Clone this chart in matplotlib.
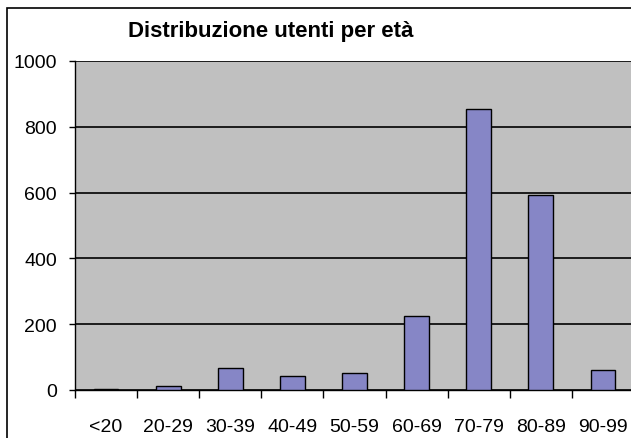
import matplotlib
matplotlib.use("Agg")
import matplotlib.pyplot as plt
from matplotlib.patches import Rectangle

# Age classes and number of users
categories = ["<20", "20-29", "30-39", "40-49", "50-59", "60-69", "70-79", "80-89", "90-99"]
users = [3, 13, 67, 43, 53, 226, 855, 593, 61]
y_ticks = [0, 200, 400, 600, 800, 1000]

W, H = 631, 439
plt.rcParams["font.family"] = ["Liberation Sans", "DejaVu Sans"]

fig = plt.figure(figsize=(W / 100, H / 100), dpi=100)
fig.patch.set_facecolor("white")

# plot area placed in pixel terms
left, right, top, bottom = 75, 634, 62, 391
ax = fig.add_axes([left / W, 1 - bottom / H, (right - left) / W, (bottom - top) / H])
ax.set_facecolor("#C0C0C0")

x = list(range(len(categories)))
ax.bar(x, users, width=0.4, color="#8686C6", edgecolor="black", linewidth=1.0, zorder=3)

ax.set_xlim(-0.5, len(categories) - 0.5)
ax.set_ylim(0, 1000)
ax.set_yticks(y_ticks)
ax.set_yticklabels([str(v) for v in y_ticks], fontsize=14)
ax.yaxis.grid(True, color="black", linewidth=1.2, zorder=1)
ax.set_axisbelow(True)

# x ticks at category boundaries, labels at centres
ax.set_xticks([i - 0.5 for i in range(len(categories) + 1)])
ax.set_xticklabels([])
ax.set_xticks(x, minor=True)
ax.set_xticklabels(categories, minor=True, fontsize=14)
ax.tick_params(axis="x", which="major", direction="out", length=6, width=1.0, color="black")
ax.tick_params(axis="x", which="minor", length=0, pad=20)
ax.tick_params(axis="y", direction="out", length=4, width=1.0, pad=9)

for s in ["top", "right"]:
    ax.spines[s].set_visible(False)
for s in ["left", "bottom"]:
    ax.spines[s].set_color("black")
    ax.spines[s].set_linewidth(1.0)

fig.text(271 / W, 1 - 32 / H, "Distribuzione utenti per età", ha="center", va="center",
         fontsize=16, fontweight="bold")

# outer chart border (right and bottom edges are outside the picture)
fig.patches.append(Rectangle((7 / W, -0.1), 1.2, 1 - 9 / H + 0.1, transform=fig.transFigure,
                             fill=False, edgecolor="black", linewidth=1.2))

fig.savefig("out.png", dpi=100)
